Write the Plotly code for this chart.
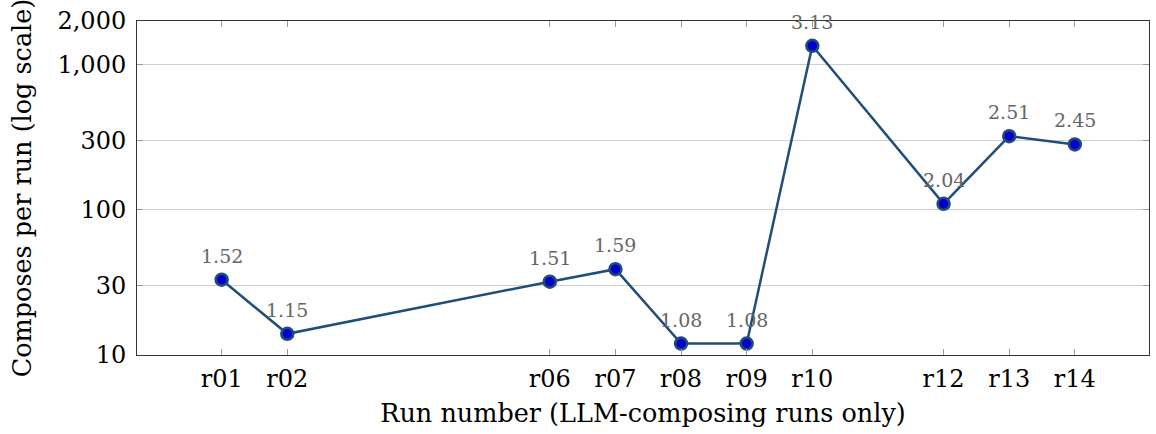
import numpy as np
import plotly.graph_objects as go

runs = [1, 2, 6, 7, 8, 9, 10, 12, 13, 14]
run_labels = ["r01", "r02", "r06", "r07", "r08", "r09", "r10", "r12", "r13", "r14"]
composes = [33, 14, 32, 39, 12, 12, 1350, 110, 322, 282]
log_labels = ["1.52", "1.15", "1.51", "1.59", "1.08", "1.08", "3.13", "2.04", "2.51", "2.45"]

y_ticks = [10, 30, 100, 300, 1000, 2000]
y_tick_text = ["10", "30", "100", "300", "1,000", "2,000"]

FONT = "DejaVu Serif"

fig = go.Figure()
fig.add_trace(go.Scatter(
    x=runs, y=composes, mode="lines+markers",
    line=dict(color="#1f4e79", width=2.5),
    marker=dict(size=12, color="#0000cc", line=dict(color="#1f4e79", width=2.5)),
    showlegend=False, hoverinfo="skip",
))

for xv, yv, t in zip(runs, composes, log_labels):
    fig.add_annotation(x=xv, y=np.log10(yv), text=t, showarrow=False,
                       yshift=24, font=dict(family=FONT, size=19, color="#666666"))

fig.update_layout(
    width=1156, height=434,
    margin=dict(l=137, r=7, t=21, b=79),
    paper_bgcolor="white", plot_bgcolor="white",
    font=dict(family=FONT, color="black"),
    xaxis=dict(
        range=[-0.29, 15.13], tickmode="array", tickvals=runs, ticktext=run_labels,
        ticks="inside", ticklen=6, tickcolor="#999999", tickwidth=1,
        showgrid=False, zeroline=False,
        showline=True, linecolor="#333333", linewidth=1, mirror="ticks",
        tickfont=dict(family=FONT, size=24), ticklabelstandoff=2,
        title=dict(text="Run number (LLM-composing runs only)",
                   font=dict(family=FONT, size=25.5), standoff=12),
    ),
    yaxis=dict(
        type="log", range=[1, np.log10(2000)],
        tickmode="array", tickvals=y_ticks, ticktext=y_tick_text,
        ticks="inside", ticklen=6, tickcolor="#999999", tickwidth=1,
        showgrid=True, gridcolor="#d0d0d0", gridwidth=1.2, zeroline=False,
        showline=True, linecolor="#333333", linewidth=1, mirror="ticks",
        tickfont=dict(family=FONT, size=24), ticklabelstandoff=5,
        title=dict(text="Composes per run (log scale)",
                   font=dict(family=FONT, size=25.5), standoff=18),
    ),
)

fig.write_html("out.html")
